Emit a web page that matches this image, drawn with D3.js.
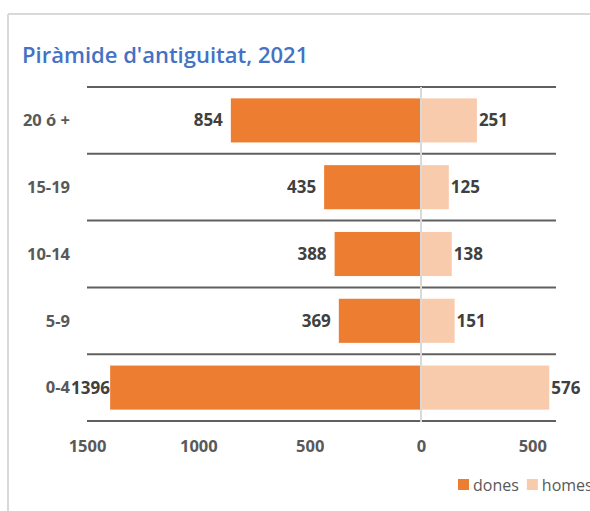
<!DOCTYPE html>
<html>
<head>
<meta charset="utf-8">
<script src="https://cdn.jsdelivr.net/npm/d3@7"></script>
<style>
  body { margin: 0; background: #fff; }
  svg { display: block; font-family: "Open Sans", "Noto Sans", sans-serif; }
</style>
</head>
<body>
<div id="chart"></div>
<script>
// age bands, top to bottom as in the chart
const categories = ['20 ó +', '15-19', '10-14', '5-9', '0-4'];
const dones = [854, 435, 388, 369, 1396];
const homes = [251, 125, 138, 151, 576];
const tickValues = [-1500, -1000, -500, 0, 500];
const seriesNames = ['dones', 'homes'];
const seriesColors = ['#ED7D31', '#F8CBAD'];

const width = 590;
const height = 511;

const svg = d3.select('#chart')
    .append('svg')
    .attr('width', width)
    .attr('height', height);

// Chart frame (only top and left edges are visible in the window)
svg.append('line')
    .attr('x1', 8).attr('x2', width)
    .attr('y1', 14).attr('y2', 14)
    .style('stroke', '#d9d9d9')
    .style('stroke-width', 2);
svg.append('line')
    .attr('x1', 8).attr('x2', 8)
    .attr('y1', 14).attr('y2', height)
    .style('stroke', '#d9d9d9')
    .style('stroke-width', 2);

// Title
svg.append('text')
    .attr('x', 22)
    .attr('y', 63)
    .style('font-size', '22px')
    .style('font-weight', 600)
    .style('fill', '#4472C4')
    .text("Piràmide d'antiguitat, 2021");

// Scales
const x = d3.scaleLinear()
    .domain([-1500, 600])
    .range([87, 554.6]);

const y = d3.scaleBand()
    .domain(categories)
    .range([87, 421])
    .paddingInner(0.34)
    .paddingOuter(0.17);

const step = y.step();

// Horizontal gridlines between the categories
const gridYs = d3.range(categories.length + 1).map(i => 87 + i * step);
svg.append('g')
    .selectAll('line')
    .data(gridYs)
    .enter()
    .append('line')
    .attr('x1', 87)
    .attr('x2', 556)
    .attr('y1', d => d)
    .attr('y2', d => d)
    .style('stroke', '#606060')
    .style('stroke-width', 2);

// Bars
const rows = categories.map((c, i) => ({ cat: c, dones: dones[i], homes: homes[i] }));

svg.append('g')
    .selectAll('rect')
    .data(rows)
    .enter()
    .append('rect')
    .attr('x', d => x(-d.dones))
    .attr('y', d => y(d.cat))
    .attr('width', d => x(0) - x(-d.dones))
    .attr('height', y.bandwidth())
    .style('fill', seriesColors[0]);

svg.append('g')
    .selectAll('rect')
    .data(rows)
    .enter()
    .append('rect')
    .attr('x', x(0))
    .attr('y', d => y(d.cat))
    .attr('width', d => x(d.homes) - x(0))
    .attr('height', y.bandwidth())
    .style('fill', seriesColors[1]);

// Zero line
svg.append('line')
    .attr('x1', x(0)).attr('x2', x(0))
    .attr('y1', 87).attr('y2', 422)
    .style('stroke', '#d9d9d9')
    .style('stroke-width', 2);

// Value labels
const labelFont = '17px';
const doneLabels = svg.append('g')
    .selectAll('text')
    .data(rows)
    .enter()
    .append('text')
    .attr('y', d => y(d.cat) + y.bandwidth() / 2)
    .attr('dy', '0.35em')
    .attr('text-anchor', 'end')
    .style('font-size', labelFont)
    .style('font-weight', 'bold')
    .style('fill', '#404040')
    .text(d => d.dones);

// keep the labels inside the plot area (Excel pushes them in)
doneLabels.attr('x', function(d) {
    const w = this.getComputedTextLength();
    return Math.max(x(-d.dones) - 8, 71 + w);
});

svg.append('g')
    .selectAll('text')
    .data(rows)
    .enter()
    .append('text')
    .attr('x', d => x(d.homes) + 2)
    .attr('y', d => y(d.cat) + y.bandwidth() / 2)
    .attr('dy', '0.35em')
    .style('font-size', labelFont)
    .style('font-weight', 'bold')
    .style('fill', '#404040')
    .text(d => d.homes);

// Category labels
svg.append('g')
    .selectAll('text')
    .data(categories)
    .enter()
    .append('text')
    .attr('x', 70)
    .attr('y', d => y(d) + y.bandwidth() / 2)
    .attr('dy', '0.35em')
    .attr('text-anchor', 'end')
    .style('font-size', '16.5px')
    .style('font-weight', 'bold')
    .style('fill', '#595959')
    .text(d => d);

// Bottom axis, labels only
const xAxis = d3.axisBottom(x)
    .tickValues(tickValues)
    .tickFormat(d => Math.abs(d))
    .tickSize(0)
    .tickPadding(0);

const axisG = svg.append('g')
    .attr('transform', 'translate(0, 440)')
    .call(xAxis);

axisG.select('.domain').remove();
axisG.selectAll('text')
    .attr('dy', '0.35em')
    .attr('y', 6)
    .style('font-family', '"Open Sans", "Noto Sans", sans-serif')
    .style('font-size', '16.5px')
    .style('font-weight', 'bold')
    .style('fill', '#595959');

// Legend
const legend = svg.append('g')
    .attr('class', 'legend')
    .attr('transform', 'translate(458, 479)');

let offset = 0;
seriesNames.forEach((name, i) => {
    const item = legend.append('g')
        .attr('transform', `translate(${offset}, 0)`);

    item.append('rect')
        .attr('width', 11)
        .attr('height', 11)
        .attr('fill', seriesColors[i]);

    const label = item.append('text')
        .attr('x', 15)
        .attr('y', 6)
        .attr('dy', '0.35em')
        .style('font-size', '16px')
        .style('fill', '#595959')
        .text(name);

    offset += 15 + label.node().getComputedTextLength() + 8;
});
</script>
</body>
</html>
